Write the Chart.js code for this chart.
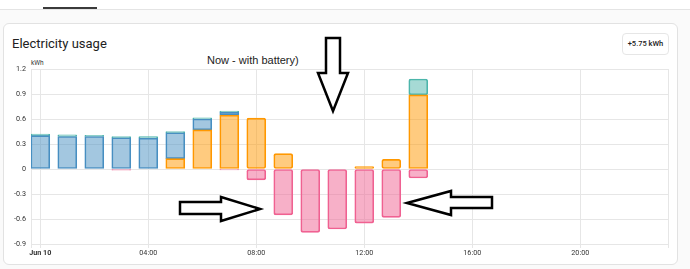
<!DOCTYPE html>
<html>
<head>
<meta charset="utf-8">
<script src="https://cdn.jsdelivr.net/npm/chart.js@4"></script>
<style>
  html, body { margin: 0; padding: 0; }
  body { width: 690px; height: 269px; position: relative; overflow: hidden; background: #fafafa; font-family: Roboto, sans-serif; }
  #topbar { position: absolute; left: 0; top: 0; width: 690px; height: 9px; background: #fff; border-bottom: 1px solid #e4e4e4; }
  #tab { position: absolute; left: 43px; top: 7px; width: 54px; height: 2px; background: #3a3a3a; }
  #card { position: absolute; left: 3px; top: 23px; width: 673px; height: 240px; background: #fff; border: 1px solid #e2e2e2; border-radius: 6px; }
  #title { position: absolute; left: 12px; top: 36px; font-size: 13px; color: #212121; }
  #badge { position: absolute; left: 622px; top: 33px; width: 45px; height: 20px; border: 1px solid #e6e6e6; border-radius: 4px; font-size: 7.5px; font-weight: 500; color: #212121; line-height: 20px; text-align: center; background: #fff; }
  #unit { position: absolute; left: 31px; top: 59px; font-size: 6.5px; color: #333; }
  #note { position: absolute; left: 207px; top: 54px; font-family: "Liberation Sans", Arial, sans-serif; font-size: 11px; color: #222; }
  #chart { position: absolute; left: 0; top: 0; }
  #arrows { position: absolute; left: 0; top: 0; }
</style>
</head>
<body>
<div id="topbar"></div>
<div id="tab"></div>
<div id="card"></div>
<div id="title">Electricity usage</div>
<div id="badge">+5.75 kWh</div>
<div id="unit">kWh</div>
<div id="note">Now - with battery)</div>
<canvas id="chart" width="690" height="269"></canvas>
<svg id="arrows" width="690" height="269">
  <g fill="#fff" stroke="#000" stroke-width="2.5" stroke-linejoin="miter">
    <polygon points="326,38 340,38 340,73 348,73 333,111 318,73 326,73"/>
    <polygon points="180,202 221,202 221,197 260,209 221,221 221,214 180,214"/>
    <polygon points="407,203 451,191 451,197 492,197 492,208 451,208 451,215"/>
  </g>
</svg>
<script>
// horas del dia con datos
var hours = [0, 1, 2, 3, 4, 5, 6, 7, 8, 9, 10, 11, 12, 13, 14];
// kWh por hora
var solar      = [null, null, null, null, null, 0.125, 0.47, 0.645, 0.61, 0.185, null, null, 0.03, 0.115, 0.89];
var grid       = [0.40, 0.39, 0.39, 0.375, 0.37, 0.31, 0.13, 0.035, null, null, null, null, null, null, null];
var batteryOut = [0.02, 0.02, 0.015, 0.015, 0.018, 0.015, 0.015, 0.015, null, null, null, null, null, null, 0.19];
var batteryIn  = [null, null, null, -0.015, null, null, null, -0.01, -0.13, -0.55, -0.76, -0.72, -0.65, -0.58, -0.108];
var yTicks = [-0.9, -0.6, -0.3, 0, 0.3, 0.6, 0.9, 1.2];
var xTicks = [0, 4, 8, 12, 16, 20];
var xMin = -0.344, xMax = 23.25;

function serie(vals){
  return hours.map(function(h, i){ return {x: h, y: vals[i]}; });
}
function barSet(label, vals, color, fill){
  return {
    label: label,
    data: serie(vals),
    backgroundColor: fill,
    borderColor: color,
    borderWidth: 1,
    borderRadius: 2,
    borderSkipped: false,
    barThickness: 19,
    stack: 'usage'
  };
}

var gridColor = '#e6e6e6';
var ctx = document.querySelector('#chart');
var myChart = new Chart(ctx, {
  type: 'bar',
  data: {
    datasets: [
      barSet('Solar', solar, '#ff9800', 'rgba(255, 152, 0, 0.5)'),
      barSet('Red', grid, '#488fc2', 'rgba(72, 143, 194, 0.5)'),
      barSet('Bateria salida', batteryOut, '#4db6ac', 'rgba(77, 182, 172, 0.5)'),
      barSet('Bateria entrada', batteryIn, '#f06292', 'rgba(240, 98, 146, 0.5)')
    ]
  },
  options: {
    responsive: false,
    animation: false,
    layout: { padding: { left: 0, top: 69, right: 22, bottom: 0 } },
    plugins: { legend: { display: false }, tooltip: { enabled: false } },
    scales: {
      x: {
        type: 'linear',
        stacked: true,
        offset: false,
        min: xMin,
        max: xMax,
        afterBuildTicks: function(scale){
          scale.ticks = [xMin].concat(xTicks, [xMax]).map(function(v){ return {value: v}; });
        },
        afterFit: function(scale){ scale.height = 25; },
        grid: { color: gridColor, tickLength: 4, tickColor: gridColor, offset: false },
        border: { color: gridColor },
        ticks: {
          autoSkip: false,
          maxRotation: 0,
          padding: 1,
          color: '#333',
          font: function(c){
            return { family: 'Roboto', size: 7.2, weight: (c.tick && c.tick.value === 0) ? 'bold' : 'normal' };
          },
          callback: function(v){
            if (xTicks.indexOf(v) < 0) return '';
            if (v === 0) return 'Jun 10';
            return (v < 10 ? '0' + v : v) + ':00';
          }
        }
      },
      y: {
        stacked: true,
        min: -0.9,
        max: 1.2,
        afterBuildTicks: function(scale){
          scale.ticks = yTicks.map(function(v){ return {value: v}; });
        },
        afterFit: function(scale){ scale.width = 31; },
        grid: { color: gridColor, drawTicks: false },
        border: { color: gridColor },
        ticks: {
          padding: 5,
          color: '#333',
          font: { family: 'Roboto', size: 7.2 },
          callback: function(v){ return v === 0 ? '0' : v.toFixed(1); }
        }
      }
    }
  }
});
</script>
</body>
</html>
